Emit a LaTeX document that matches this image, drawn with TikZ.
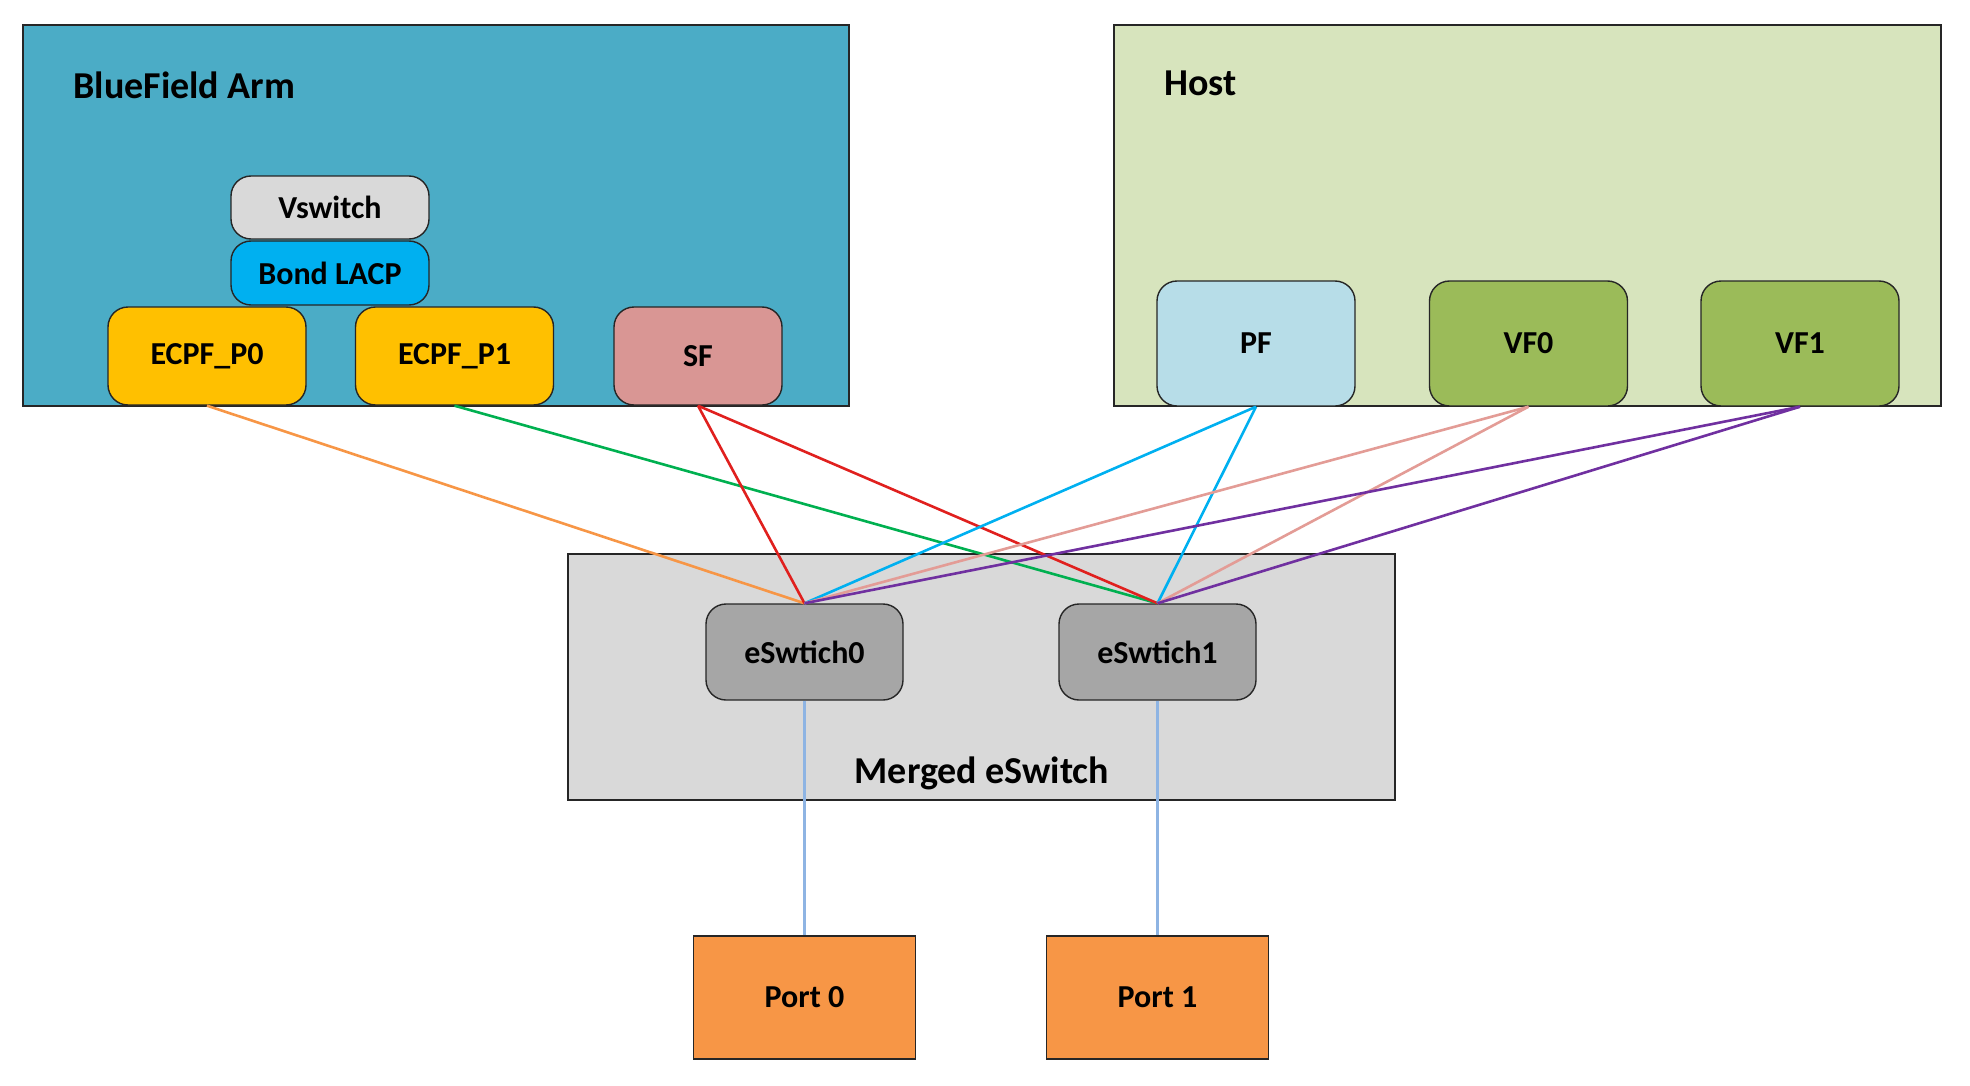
\documentclass[tikz,border=0pt]{standalone}
\usepackage{fontspec}
\setmainfont{Carlito}
\definecolor{bfbg}{HTML}{4BACC6}
\definecolor{hostbg}{HTML}{D7E4BD}
\definecolor{mergebg}{HTML}{D9D9D9}
\definecolor{vsw}{HTML}{D9D9D9}
\definecolor{bond}{HTML}{00B0F0}
\definecolor{ecpf}{HTML}{FFC000}
\definecolor{sfc}{HTML}{D99694}
\definecolor{pfc}{HTML}{B7DDE8}
\definecolor{vfc}{HTML}{9BBB59}
\definecolor{eswc}{HTML}{A6A6A6}
\definecolor{portc}{HTML}{F79646}
\definecolor{lorange}{HTML}{F79646}
\definecolor{lgreen}{HTML}{00B050}
\definecolor{lred}{HTML}{E0201E}
\definecolor{lcyan}{HTML}{00B0F0}
\definecolor{lpink}{HTML}{E39C96}
\definecolor{lpurple}{HTML}{7030A0}
\definecolor{lport}{HTML}{8EB4E3}
\begin{document}
\begin{tikzpicture}[x=0.5pt,y=-0.5pt,
  bigbox/.style={draw=black!85,line width=0.8pt,inner sep=0pt},
  rbox/.style={draw=black!85,line width=0.7pt,rounded corners=10pt,inner sep=0pt,
    font=\fontsize{16}{19}\selectfont\bfseries},
  sbox/.style={draw=black!85,line width=0.7pt,inner sep=0pt,
    font=\fontsize{16}{19}\selectfont\bfseries},
  title/.style={inner sep=0pt,font=\fontsize{19}{22}\selectfont\bfseries},
  conn/.style={line width=1.3pt},
  pconn/.style={line width=1.2pt,draw=lport}]
\useasboundingbox (0,0) rectangle (1970,1086);
% big boxes
\node[bigbox,fill=bfbg,minimum width=413pt,minimum height=190.5pt] (bf) at (436,215.5) {};
\node[bigbox,fill=hostbg,minimum width=413.5pt,minimum height=190.5pt] (host) at (1527.5,215.5) {};
\node[title,anchor=base west] (tbf) at (73,98) {BlueField Arm};
\node[title,anchor=base west] (thost) at (1164,96) {Host};
% BlueField nodes
\node[rbox,fill=vsw,minimum width=99pt,minimum height=31.5pt] (vs) at (330,207.5) {Vswitch};
\node[rbox,fill=bond,minimum width=99pt,minimum height=32pt] (bd) at (330,273) {Bond LACP};
\node[rbox,fill=ecpf,minimum width=99pt,minimum height=49pt] (e0) at (207,356) {ECPF\_P0};
\node[rbox,fill=ecpf,minimum width=99pt,minimum height=49pt] (e1) at (454.5,356) {ECPF\_P1};
\node[rbox,fill=sfc,minimum width=84pt,minimum height=49pt] (sf) at (698,356) {SF};
% Host nodes
\node[rbox,fill=pfc,minimum width=99pt,minimum height=62.5pt] (pf) at (1256,343.5) {PF};
\node[rbox,fill=vfc,minimum width=99pt,minimum height=62.5pt] (vf0) at (1528.5,343.5) {VF0};
\node[rbox,fill=vfc,minimum width=99pt,minimum height=62.5pt] (vf1) at (1800,343.5) {VF1};
% merged box
\node[bigbox,fill=mergebg,minimum width=413.5pt,minimum height=123pt] (mg) at (981.5,677) {};
\node[title,anchor=base] (tmg) at (982,783) {Merged eSwitch};
% eswitch nodes
\node[rbox,fill=eswc,minimum width=98.5pt,minimum height=48pt] (s0) at (804.5,652) {eSwtich0};
\node[rbox,fill=eswc,minimum width=98.5pt,minimum height=48pt] (s1) at (1157.5,652) {eSwtich1};
% connectors
\draw[conn,lorange] (e0.south) -- (s0.north);
\draw[conn,lgreen] (e1.south) -- (s1.north);
\draw[conn,lred] (sf.south) -- (s0.north);
\draw[conn,lred] (sf.south) -- (s1.north);
\draw[conn,lcyan] (pf.south) -- (s0.north);
\draw[conn,lcyan] (pf.south) -- (s1.north);
\draw[conn,lpink] (vf0.south) -- (s0.north);
\draw[conn,lpink] (vf0.south) -- (s1.north);
\draw[conn,lpurple] (vf1.south) -- (s0.north);
\draw[conn,lpurple] (vf1.south) -- (s1.north);
% ports
\node[sbox,fill=portc,minimum width=111pt,minimum height=61.5pt] (p0) at (804.5,997.5) {Port 0};
\node[sbox,fill=portc,minimum width=111pt,minimum height=61.5pt] (p1) at (1157.5,997.5) {Port 1};
\draw[pconn] (s0.south) -- (p0.north);
\draw[pconn] (s1.south) -- (p1.north);
\end{tikzpicture}
\end{document}
